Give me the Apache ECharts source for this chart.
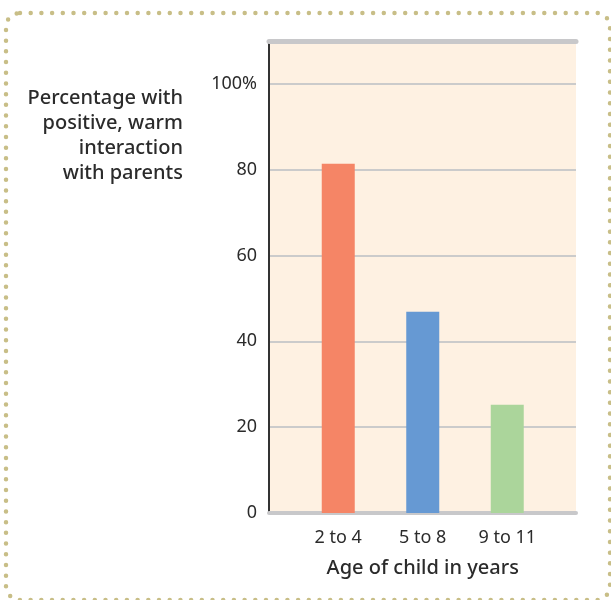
<!DOCTYPE html>
<html>
<head>
<meta charset="utf-8">
<script src="https://cdn.jsdelivr.net/npm/echarts@6/dist/echarts.min.js"></script>
<style>
  html, body { margin: 0; padding: 0; background: #fff; }
  #LineChart { width: 611px; height: 600px; }
</style>
</head>
<body>
<div id="LineChart"></div>
<script>
// data
var categories = ['2 to 4', '5 to 8', '9 to 11'];
var values = [81.4, 46.9, 25.2];
var barColors = ['#f58566', '#6699d3', '#abd59b'];
var yTicks = [0, 20, 40, 60, 80, 100];

var myChart = echarts.init(document.getElementById('LineChart'));
var font = 'Noto Sans';
var option;
option = {
  animation: false,
  graphic: [
    {
      // dotted frame round the whole figure
      type: 'rect',
      shape: { x: 6, y: 13, width: 604, height: 587, r: 14 },
      style: {
        fill: 'none',
        stroke: '#c8be87',
        lineWidth: 4.5,
        lineDash: [0, 10.7],
        lineCap: 'round'
      }
    },
    {
      type: 'text',
      x: 183,
      y: 86,
      style: {
        text: 'Percentage with\npositive, warm\ninteraction\nwith parents',
        align: 'right',
        verticalAlign: 'top',
        font: '500 20px "Noto Sans"',
        lineHeight: 25,
        fill: '#2b2b2b'
      }
    }
  ],
  grid: [
    { left: 269, right: 35, top: 41, bottom: 87, show: true, backgroundColor: '#fef1e2', borderWidth: 0 },
    { left: 296, right: 61.5, top: 41, bottom: 87 }
  ],
  xAxis: [
    {
      // plot frame bottom
      type: 'category', gridIndex: 0, position: 'bottom', offset: 2,
      data: categories,
      axisLine: { show: true, lineStyle: { color: '#c8c8ca', width: 4 } },
      axisTick: { show: false }, axisLabel: { show: false }, splitLine: { show: false }
    },
    {
      // plot frame top
      type: 'category', gridIndex: 0, position: 'top',
      data: categories,
      axisLine: { show: true, lineStyle: { color: '#c8c8ca', width: 5 } },
      axisTick: { show: false }, axisLabel: { show: false }, splitLine: { show: false }
    },
    {
      type: 'category', gridIndex: 1,
      data: categories,
      axisLine: { show: false },
      axisTick: { show: false },
      axisLabel: { color: '#2b2b2b', fontSize: 18, fontFamily: font, margin: 16 },
      name: 'Age of child in years',
      nameLocation: 'middle',
      nameGap: 45,
      nameTextStyle: { color: '#2b2b2b', fontSize: 20, fontWeight: 500, fontFamily: font }
    }
  ],
  yAxis: [
    {
      type: 'value', gridIndex: 0,
      min: 0, max: 110, interval: 20,
      axisLine: { show: true, lineStyle: { color: '#333', width: 2 } },
      axisTick: { show: false },
      splitLine: { show: true, lineStyle: { color: '#cbcbcb', width: 2 } },
      axisLabel: {
        color: '#2b2b2b', fontSize: 18, fontFamily: font, margin: 12,
        formatter: function (v) {
          if (yTicks.indexOf(v) < 0) return '';
          return v === 100 ? '100%' : String(v);
        }
      }
    },
    {
      type: 'value', gridIndex: 1,
      min: 0, max: 110, interval: 20,
      show: false
    }
  ],
  series: [
    {
      type: 'bar',
      xAxisIndex: 2,
      yAxisIndex: 1,
      barWidth: 33,
      data: values.map(function (v, i) {
        return { value: v, itemStyle: { color: barColors[i] } };
      })
    }
  ]
};

option && myChart.setOption(option);
</script>
</body>
</html>
